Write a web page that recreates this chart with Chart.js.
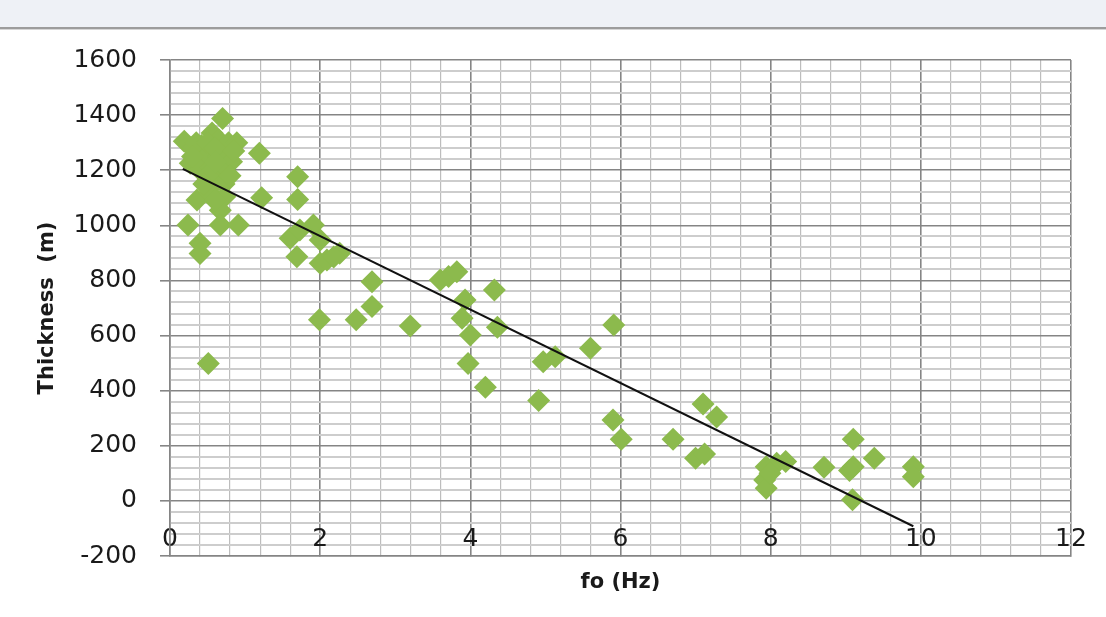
<!DOCTYPE html>
<html lang="en">
<head>
    <meta charset="UTF-8">
    <title>Thickness vs fo</title>
    <script src="https://cdn.jsdelivr.net/npm/chart.js"></script>
    <style>
        body {
            margin: 0;
            background: #ffffff;
            font-family: "DejaVu Sans", sans-serif;
        }
        .topbar {
            position: absolute;
            left: 0;
            top: 0;
            width: 1106px;
            height: 27px;
            background: #eef1f6;
            border-bottom: 2px solid #9c9c9c;
            box-shadow: 0 1px 0 #d6d6d6;
        }
        .wrap {
            position: absolute;
            left: 0;
            top: 0;
            width: 1106px;
            height: 617px;
        }
    </style>
</head>
<body>
    <div class="topbar"></div>
    <div class="wrap">
        <canvas id="chart" width="1106" height="617"></canvas>
    </div>

    <script>
        const fo = [
            0.70, 0.19, 0.30, 0.42, 0.56, 0.55, 0.65, 0.78, 0.89, 0.45,
            0.65, 0.75, 0.27, 0.40, 0.55, 0.82, 0.71, 0.62, 0.72, 1.19,
            1.22, 0.36, 0.53, 0.73, 0.67, 0.24, 0.67, 0.91, 0.40, 0.40,
            0.51, 1.70, 1.70, 1.91, 1.60, 1.73, 2.00, 1.69, 2.00, 2.09,
            2.26, 2.18, 2.69, 2.69, 2.48, 1.99, 3.20, 3.60, 3.71, 3.82,
            3.93, 3.89, 4.00, 4.32, 4.36, 3.97, 4.20, 4.91, 4.97, 5.13,
            5.60, 5.91, 5.90, 6.01, 6.70, 7.10, 7.28, 7.00, 7.12, 7.94,
            8.08, 8.20, 7.92, 7.94, 7.99, 8.71, 9.10, 9.10, 9.05, 9.38,
            9.09, 9.90, 9.90,
            0.35, 0.50, 0.60, 0.30, 0.50, 0.85, 0.60, 0.60, 0.80, 0.45
        ];
        const thickness = [
            1388, 1305, 1280, 1290, 1335, 1270, 1310, 1300, 1300, 1240,
            1250, 1240, 1225, 1200, 1210, 1231, 1194, 1160, 1150, 1262,
            1100, 1092, 1117, 1104, 1055, 1001, 1001, 1001, 935, 898,
            499, 1176, 1094, 1001, 953, 983, 947, 886, 862, 874,
            899, 885, 795, 705, 657, 657, 635, 802, 814, 832,
            729, 663, 602, 765, 630, 499, 412, 364, 505, 523,
            554, 638, 294, 224, 224, 352, 304, 155, 170, 124,
            137, 143, 76, 46, 100, 122, 224, 124, 110, 155,
            4, 124, 88,
            1300, 1300, 1280, 1250, 1180, 1270, 1230, 1090, 1180, 1150
        ];

        // linear trend line ends
        const trendX = [0.17, 9.90];
        const trendY = [1205, -92];

        // axis ranges and steps
        const xRange = [0, 12];
        const yRange = [-200, 1600];
        const xMinorStep = 0.4, xMajorStep = 2;
        const yMinorStep = 40, yMajorStep = 200;

        const isMajor = (v, step) => Math.abs(v / step - Math.round(v / step)) < 1e-6;

        const points = fo.map((x, i) => ({ x: x, y: thickness[i] }));
        const trend = trendX.map((x, i) => ({ x: x, y: trendY[i] }));

        const majorGrid = '#858585';
        const textColor = '#1a1a1a';

        new Chart(document.getElementById('chart'), {
            type: 'scatter',
            data: {
                datasets: [
                    {
                        label: 'Linear',
                        data: trend,
                        showLine: true,
                        borderColor: '#111111',
                        borderWidth: 2,
                        pointRadius: 0,
                        fill: false
                    },
                    {
                        label: 'Thickness',
                        data: points,
                        pointStyle: 'rectRot',
                        pointRadius: 11.5,
                        pointBackgroundColor: '#8cba4d',
                        pointBorderWidth: 0
                    }
                ]
            },
            options: {
                responsive: false,
                animation: false,
                layout: { padding: { top: 60, right: 35, left: 0, bottom: 0 } },
                plugins: {
                    legend: { display: false },
                    tooltip: { enabled: false }
                },
                scales: {
                    x: {
                        type: 'linear',
                        min: xRange[0],
                        max: xRange[1],
                        afterFit: s => { s.height = 61; },
                        border: { color: majorGrid, width: 1.5 },
                        grid: {
                            color: c => isMajor(c.tick.value, xMajorStep) ? majorGrid : '#bdbdbd',
                            lineWidth: c => isMajor(c.tick.value, xMajorStep) ? 1.6 : 1.2,
                            tickLength: 0
                        },
                        ticks: {
                            stepSize: xMinorStep,
                            autoSkip: false,
                            maxRotation: 0,
                            minRotation: 0,
                            mirror: true,
                            padding: 2,
                            color: textColor,
                            font: { family: 'DejaVu Sans', size: 25 },
                            callback: v => isMajor(v, xMajorStep) ? String(v) : ''
                        },
                        title: {
                            display: true,
                            text: 'fo (Hz)',
                            color: textColor,
                            font: { family: 'DejaVu Sans', size: 21, weight: 'bold' },
                            padding: { top: 0, bottom: 22 }
                        }
                    },
                    y: {
                        type: 'linear',
                        min: yRange[0],
                        max: yRange[1],
                        afterFit: s => { s.width = 170; },
                        border: { color: majorGrid, width: 1.5 },
                        grid: {
                            color: c => isMajor(c.tick.value, yMajorStep) ? majorGrid : '#cdcdcd',
                            lineWidth: c => isMajor(c.tick.value, yMajorStep) ? 1.6 : 2,
                            tickColor: c => isMajor(c.tick.value, yMajorStep) ? majorGrid : 'rgba(0,0,0,0)',
                            tickLength: 10
                        },
                        ticks: {
                            stepSize: yMinorStep,
                            autoSkip: false,
                            padding: 23,
                            color: textColor,
                            font: { family: 'DejaVu Sans', size: 25 },
                            callback: v => isMajor(v, yMajorStep) ? String(v) : ''
                        },
                        title: {
                            display: true,
                            text: 'Thickness  (m)',
                            color: textColor,
                            font: { family: 'DejaVu Sans', size: 21, weight: 'bold' },
                            padding: { top: 35, bottom: 0 }
                        }
                    }
                }
            }
        });
    </script>
</body>
</html>
